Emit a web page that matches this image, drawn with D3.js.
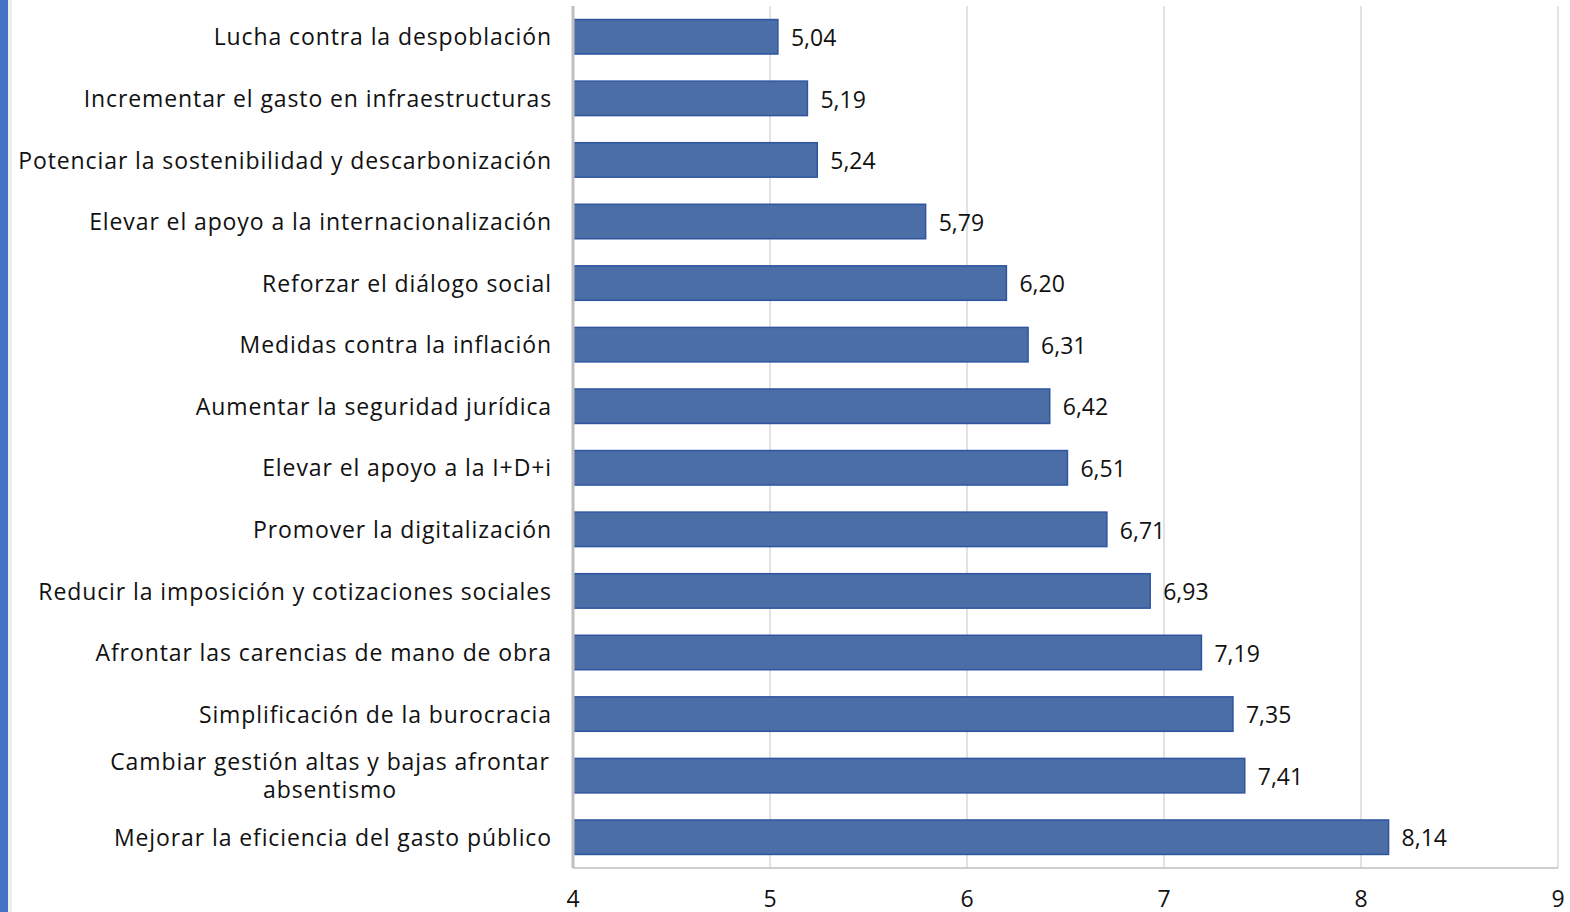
<!DOCTYPE html>
<html>
<head>
<meta charset="utf-8">
<script src="https://cdn.jsdelivr.net/npm/d3@7"></script>
<style>
  body { margin: 0; background: #fff; }
  svg { display: block; }
  text { font-family: "Open Sans", sans-serif; fill: #111; }
</style>
</head>
<body>
<svg id="chart" width="1570" height="912"></svg>
<script>
// categories top to bottom
const categories = [
  "Lucha contra la despoblación",
  "Incrementar el gasto en infraestructuras",
  "Potenciar la sostenibilidad y descarbonización",
  "Elevar el apoyo a la internacionalización",
  "Reforzar el diálogo social",
  "Medidas contra la inflación",
  "Aumentar la seguridad jurídica",
  "Elevar el apoyo a la I+D+i",
  "Promover la digitalización",
  "Reducir la imposición y cotizaciones sociales",
  "Afrontar las carencias de mano de obra",
  "Simplificación de la burocracia",
  "Cambiar gestión altas y bajas afrontar absentismo",
  "Mejorar la eficiencia del gasto público"
]
const values = [5.04, 5.19, 5.24, 5.79, 6.20, 6.31, 6.42, 6.51, 6.71, 6.93, 7.19, 7.35, 7.41, 8.14]
const xTicks = [4, 5, 6, 7, 8, 9]

// label lines (the long one wraps)
const labelLines = {
  "Cambiar gestión altas y bajas afrontar absentismo": ["Cambiar gestión altas y bajas afrontar", "absentismo"]
}

const svg = d3.select('#chart')
const plotLeft = 573, plotRight = 1558, plotTop = 6, plotBottom = 868

// blue strip on the left edge
svg.append('rect').attr('x', 0).attr('y', 0).attr('width', 8).attr('height', 912).attr('fill', '#4472c4')
svg.append('rect').attr('x', 8).attr('y', 0).attr('width', 4).attr('height', 912).attr('fill', '#ededed')

const x = d3.scaleLinear().domain([4, 9]).range([plotLeft, plotRight])
const y = d3.scaleBand().domain(categories).range([plotTop, plotBottom]).paddingInner(0.44).paddingOuter(0.22)

const g = svg.append('g')

// gridlines
g.selectAll('.grid')
  .data(xTicks.slice(1))
  .enter()
  .append('line')
  .attr('x1', d => x(d)).attr('x2', d => x(d))
  .attr('y1', plotTop).attr('y2', plotBottom)
  .attr('stroke', '#d9d9d9')
  .attr('stroke-width', 1.5)

// bars
g.selectAll('.bar')
  .data(categories)
  .enter()
  .append('rect')
  .attr('x', x(4))
  .attr('y', d => y(d))
  .attr('width', (d, i) => x(values[i]) - x(4))
  .attr('height', y.bandwidth())
  .attr('fill', '#4a6ea5')
  .attr('stroke', '#2f55a1')
  .attr('stroke-width', 1.5)

// bottom axis line and left axis line
g.append('line').attr('x1', plotLeft).attr('x2', plotRight).attr('y1', plotBottom).attr('y2', plotBottom)
  .attr('stroke', '#bfbfbf').attr('stroke-width', 1.5)
g.append('line').attr('x1', plotLeft).attr('x2', plotLeft).attr('y1', plotTop).attr('y2', plotBottom)
  .attr('stroke', '#bfbfbf').attr('stroke-width', 3)

// value labels
g.selectAll('.val')
  .data(categories)
  .enter()
  .append('text')
  .attr('x', (d, i) => x(values[i]) + 13)
  .attr('y', d => y(d) + y.bandwidth() / 2 + 1)
  .attr('dy', '0.36em')
  .attr('font-size', 23)
  .text((d, i) => values[i].toFixed(2).replace('.', ','))

// category labels
categories.forEach(c => {
  const lines = labelLines[c] || [c]
  const cy = y(c) + y.bandwidth() / 2 + 1
  const t = g.append('text')
    .attr('text-anchor', lines.length > 1 ? 'middle' : 'end')
    .attr('font-size', 23)
    .attr('letter-spacing', '0.9px')
  const lx = lines.length > 1 ? 330 : 552
  lines.forEach((l, k) => {
    t.append('tspan')
      .attr('x', lx)
      .attr('y', cy + (k - (lines.length - 1) / 2) * 28)
      .attr('dy', '0.33em')
      .text(l)
  })
})

// x tick labels
g.selectAll('.tick')
  .data(xTicks)
  .enter()
  .append('text')
  .attr('x', d => x(d))
  .attr('y', 907)
  .attr('text-anchor', 'middle')
  .attr('font-size', 23)
  .text(d => d)
</script>
</body>
</html>
